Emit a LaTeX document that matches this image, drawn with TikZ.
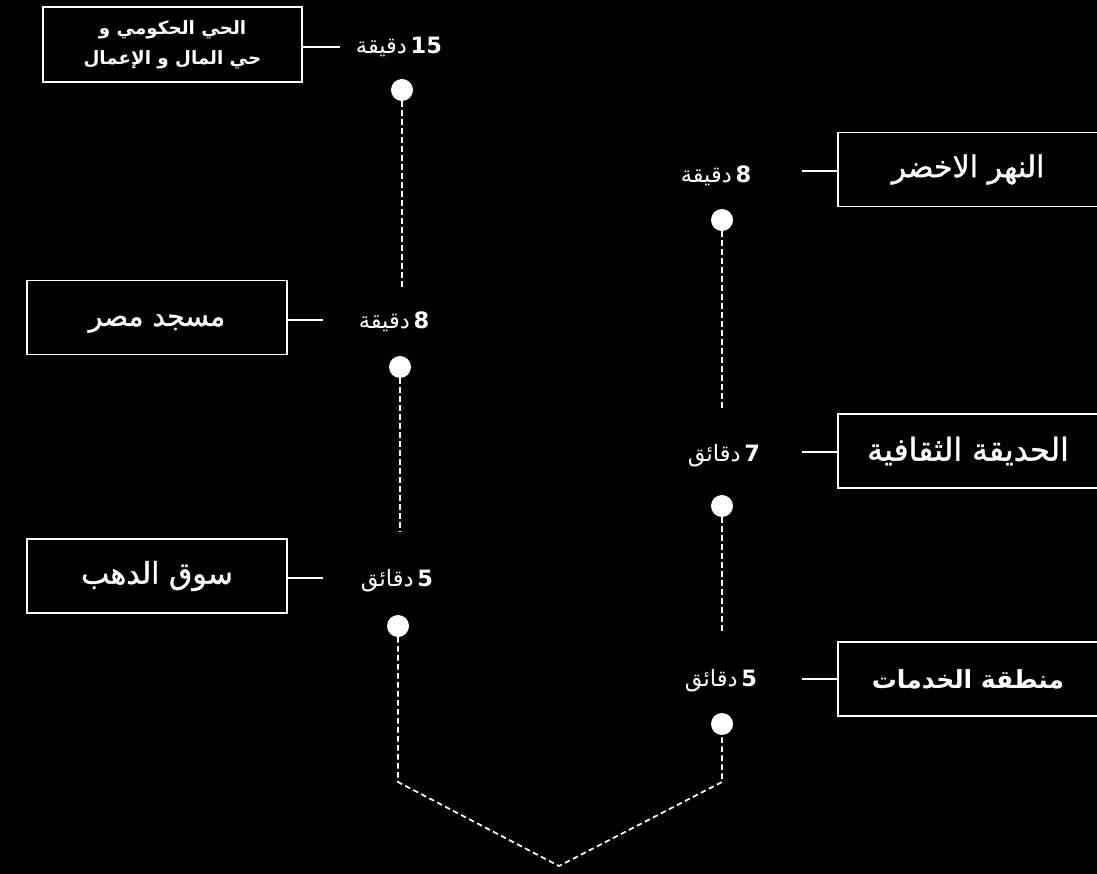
\documentclass[tikz,border=0pt]{standalone}
\usepackage{fontspec}
\setmainfont{DejaVu Sans}
\newfontfamily\arabicfont[Script=Arabic]{DejaVu Sans}
\newfontfamily\arabicmed[Script=Arabic,FakeBold=1.2]{DejaVu Sans}
\TeXXeTstate=1
\begin{document}
\begin{tikzpicture}[x=1pt,y=-1pt,
  place/.style={draw=white,line width=1.8pt,minimum width=260pt,minimum height=74pt,inner sep=0pt,text=white,align=center},
  timelabel/.style={text=white,inner sep=0pt,font=\arabicfont\fontsize{22.5}{24}\selectfont},
  stop/.style={circle,fill=white,draw=none,minimum size=22pt,inner sep=0pt},
  link/.style={draw=white,line width=1.6pt},
  route/.style={draw=white,line width=1.7pt,dash pattern=on 5.5pt off 3.5pt}]
\fill[black] (0,0) rectangle (1097,874);
\useasboundingbox (0,0) rectangle (1097,874);
% left column
\node[place,minimum width=259pt,minimum height=75pt,font=\arabicfont\bfseries\fontsize{18.3}{30}\selectfont] (b1) at (172.5,44.5) {\beginR الحي الحكومي و\endR\\\beginR حي المال و الإعمال\endR};
\node[timelabel] (t1) at (399,47) {\beginR دقيقة\endR\,\textbf{15}};
\node[stop] (d1) at (402,90) {};
\coordinate (e1) at (402,290);
\node[place,font=\arabicmed\fontsize{28}{30}\selectfont] (b2) at (157,317.5) {\raisebox{-6pt}[\height][\depth]{\beginR مسجد مصر\endR}};
\node[timelabel] (t2) at (394,322) {\beginR دقيقة\endR\,\textbf{8}};
\node[stop] (d2) at (400,367) {};
\coordinate (e2) at (400,532);
\node[place,font=\arabicmed\fontsize{30}{30}\selectfont] (b3) at (157,576) {\beginR سوق الدهب\endR};
\node[timelabel] (t3) at (397,581) {\beginR دقائق\endR\,\textbf{5}};
\node[stop] (d3) at (398,626) {};
% right column
\node[place,font=\arabicmed\fontsize{30}{30}\selectfont] (b4) at (968,169.5) {\beginR النهر الاخضر\endR};
\node[timelabel] (t4) at (716,176) {\beginR دقيقة\endR\,\textbf{8}};
\node[stop] (d4) at (722,220) {};
\coordinate (e4) at (722,410);
\node[place,font=\arabicmed\fontsize{31.5}{30}\selectfont] (b5) at (968,451) {\beginR الحديقة الثقافية\endR};
\node[timelabel] (t5) at (724,456) {\beginR دقائق\endR\,\textbf{7}};
\node[stop] (d5) at (722,506) {};
\coordinate (e5) at (722,633);
\node[place,font=\arabicfont\bfseries\fontsize{25}{30}\selectfont] (b6) at (968,679) {\beginR منطقة الخدمات\endR};
\node[timelabel] (t6) at (721,681) {\beginR دقائق\endR\,\textbf{5}};
\node[stop] (d6) at (722,724) {};
% connectors box-label
\coordinate (c1) at (340,47);
\coordinate (c2) at (323,320);
\coordinate (c3) at (323,578);
\coordinate (c4) at (802,171);
\coordinate (c5) at (802,452);
\coordinate (c6) at (802,679);
\draw[link] (c1 -| b1.east) -- (c1);
\draw[link] (c2 -| b2.east) -- (c2);
\draw[link] (c3 -| b3.east) -- (c3);
\draw[link] (c4 -| b4.west) -- (c4);
\draw[link] (c5 -| b5.west) -- (c5);
\draw[link] (c6 -| b6.west) -- (c6);
% dashed route
\coordinate (k1) at (398,782);
\coordinate (k2) at (559,866);
\coordinate (k3) at (722,782);
\draw[route] (d1.south) -- (e1);
\draw[route] (d2.south) -- (e2);
\draw[route] (d4.south) -- (e4);
\draw[route] (d5.south) -- (e5);
\draw[route] (d3.south) -- (k1) -- (k2) -- (k3) -- (d6.south);
\end{tikzpicture}
\end{document}
